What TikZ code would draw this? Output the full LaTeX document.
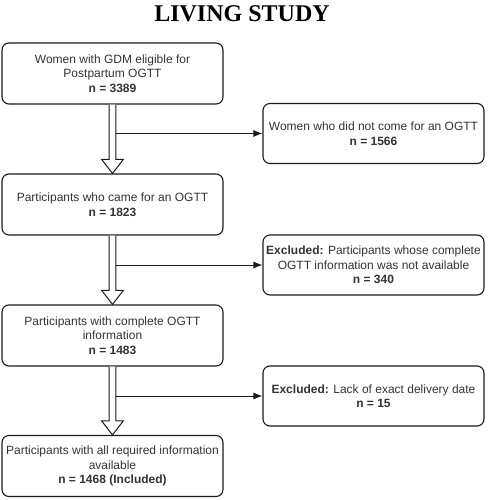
\documentclass[tikz,border=0pt]{standalone}
\usepackage{fontspec}
\setmainfont{Liberation Sans}
\newfontfamily\titlefont{Liberation Serif}
\usetikzlibrary{calc,arrows.meta}
\definecolor{txt}{HTML}{333333}
\definecolor{ln}{HTML}{1A1A1A}
\tikzset{
  box/.style={draw=ln, line width=1.1pt, rounded corners=7pt, minimum width=221pt, minimum height=61pt,
    inner sep=0pt, align=center, text=txt, font=\fontsize{12}{14.5}\selectfont},
  rbox/.style={box, minimum width=221pt, minimum height=60pt},
  hollow/.style={draw=ln, line width=1pt, fill=white, line join=miter},
  thinarrow/.style={draw=ln, line width=1pt, -{Latex[length=9pt,width=7pt]}},
}
\begin{document}
\begin{tikzpicture}[x=1pt,y=-1pt]
\useasboundingbox (0,0) rectangle (488,500);
\node[font=\titlefont\bfseries\fontsize{24}{28}\selectfont, anchor=base, inner sep=0pt] (title) at (242,22) {LIVING STUDY};

\node[box] (B1) at (112.5,73.5) {Women with GDM eligible for\\Postpartum OGTT\\\textbf{n = 3389}};
\node[box] (B2) at (112.5,204.5) {Participants who came for an OGTT\\\textbf{n = 1823}};
\node[box] (B3) at (112.5,335.5) {Participants with complete OGTT\\information\\\textbf{n = 1483}};
\node[box] (B4) at (112.5,466) {Participants with all required information\\available\\\textbf{n = 1468 (Included)}};

\node[rbox] (R1) at (373.5,133.5) {Women who did not come for an OGTT\\\textbf{n = 1566}};
\node[rbox] (R2) at (373.5,265) {\textbf{Excluded:} Participants whose complete\\OGTT information was not available\\\textbf{n = 340}};
\node[rbox] (R3) at (373.5,396) {\textbf{Excluded:} Lack of exact delivery date\\\textbf{n = 15}};

% hollow arrows and side arrows
\foreach \a/\b/\r in {B1/B2/R1, B2/B3/R2, B3/B4/R3}{
  \draw[hollow] ($(\a.south)+(-3.3,0)$) -- ($(\b.north)+(-3.3,-14)$) -- ($(\b.north)+(-10.8,-14)$)
     -- (\b.north) -- ($(\b.north)+(10.8,-14)$) -- ($(\b.north)+(3.3,-14)$) -- ($(\a.south)+(3.3,0)$);
  \coordinate (j\a) at ($(\a.south)+(3.3,0)$);
  \draw[thinarrow] (j\a |- \r.west) -- (\r.west);
}
\end{tikzpicture}
\end{document}
